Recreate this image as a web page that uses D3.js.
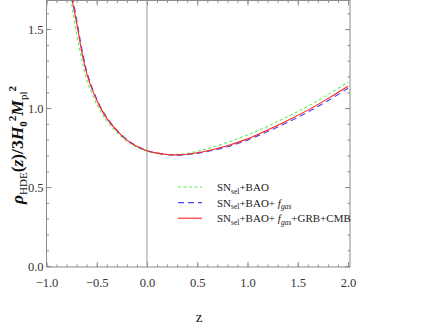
<!DOCTYPE html>
<html>
<head>
<meta charset="utf-8">
<script src="https://cdn.jsdelivr.net/npm/d3@7"></script>
<style>
body { margin: 0; background: #fff; }
svg text { font-family: "Liberation Serif", "DejaVu Serif", serif; }
</style>
</head>
<body>
<div id="chart"></div>
<script>
//redshift grid shared by all three curves
var zGrid = [-0.78, -0.75, -0.7, -0.65, -0.6, -0.55, -0.5, -0.45, -0.4, -0.3, -0.2, -0.1,
    0, 0.1, 0.2, 0.3, 0.4, 0.5, 0.6, 0.8, 1.0, 1.2, 1.4, 1.6, 1.8, 2.0];

//SNsel+BAO (green dotted)
var snBao = [1.76, 1.66, 1.47, 1.31, 1.18, 1.095, 1.025, 0.968, 0.92, 0.847, 0.79, 0.752,
    0.727, 0.713, 0.706, 0.706, 0.713, 0.726, 0.743, 0.783, 0.830, 0.884, 0.946, 1.012, 1.085, 1.163];

//SNsel+BAO+fgas (blue dashed)
var snBaoGas = [1.83, 1.73, 1.56, 1.38, 1.235, 1.135, 1.058, 0.993, 0.94, 0.86, 0.80, 0.759,
    0.731, 0.715, 0.705, 0.702, 0.705, 0.713, 0.725, 0.755, 0.797, 0.852, 0.91, 0.975, 1.047, 1.125];

//SNsel+BAO+fgas+GRB+CMB (red solid)
var snAll = [1.80, 1.70, 1.54, 1.36, 1.22, 1.125, 1.05, 0.987, 0.935, 0.857, 0.797, 0.757,
    0.730, 0.715, 0.706, 0.704, 0.708, 0.717, 0.730, 0.762, 0.805, 0.862, 0.922, 0.987, 1.06, 1.138];

var xTicks = [-1.0, -0.5, 0.0, 0.5, 1.0, 1.5, 2.0];
var yTicks = [0.0, 0.5, 1.0, 1.5];

var svgWidth = 443;
var svgHeight = 332;

var svg = d3.select("#chart").append("svg")
    .attr("width", svgWidth)
    .attr("height", svgHeight);

//scales, frame is 46.5..350 x 0.5..267
var x = d3.scaleLinear().domain([-1, 2.02]).range([46.5, 350]);
var y = d3.scaleLinear().domain([-0.006, 1.681]).range([267, 0.5]);

var frameLeft = x.range()[0], frameRight = x.range()[1];
var frameBottom = y.range()[0], frameTop = y.range()[1];

var frameColor = "#8c8c8c";
var serif = "'Liberation Serif', 'DejaVu Serif', serif";

//minor ticks every 0.1
var xMinor = d3.range(-10, 21).map(d => d / 10);
var yMinor = d3.range(0, 17).map(d => d / 10);

function styleAxis(g) {
    g.attr("font-family", serif).attr("font-size", 12.5);
    g.select(".domain").remove();
    g.selectAll(".tick line").attr("stroke", frameColor);
    g.selectAll(".tick text").attr("fill", "#333");
}

//bottom axis with labels
svg.append("g")
    .attr("transform", `translate(0, ${frameBottom})`)
    .call(d3.axisBottom(x).tickValues(xTicks).tickSizeInner(-5).tickSizeOuter(0).tickPadding(11)
        .tickFormat(d => d3.format(".1f")(d).replace("-", "\u2212")))
    .call(styleAxis);

svg.append("g")
    .attr("transform", `translate(0, ${frameBottom})`)
    .call(d3.axisBottom(x).tickValues(xMinor).tickSizeInner(-2.5).tickSizeOuter(0).tickFormat(""))
    .call(styleAxis);

//top axis, ticks only
svg.append("g")
    .attr("transform", `translate(0, ${frameTop})`)
    .call(d3.axisTop(x).tickValues(xTicks).tickSizeInner(-5).tickSizeOuter(0).tickFormat(""))
    .call(styleAxis);
svg.append("g")
    .attr("transform", `translate(0, ${frameTop})`)
    .call(d3.axisTop(x).tickValues(xMinor).tickSizeInner(-2.5).tickSizeOuter(0).tickFormat(""))
    .call(styleAxis);

//left axis with labels
svg.append("g")
    .attr("transform", `translate(${frameLeft}, 0)`)
    .call(d3.axisLeft(y).tickValues(yTicks).tickSizeInner(-5).tickSizeOuter(0).tickPadding(3)
        .tickFormat(d3.format(".1f")))
    .call(styleAxis);
svg.append("g")
    .attr("transform", `translate(${frameLeft}, 0)`)
    .call(d3.axisLeft(y).tickValues(yMinor).tickSizeInner(-2.5).tickSizeOuter(0).tickFormat(""))
    .call(styleAxis);

//right axis, ticks only
svg.append("g")
    .attr("transform", `translate(${frameRight}, 0)`)
    .call(d3.axisRight(y).tickValues(yTicks).tickSizeInner(-5).tickSizeOuter(0).tickFormat(""))
    .call(styleAxis);
svg.append("g")
    .attr("transform", `translate(${frameRight}, 0)`)
    .call(d3.axisRight(y).tickValues(yMinor).tickSizeInner(-2.5).tickSizeOuter(0).tickFormat(""))
    .call(styleAxis);

//frame
svg.append("rect")
    .attr("x", frameLeft).attr("y", frameTop)
    .attr("width", frameRight - frameLeft).attr("height", frameBottom - frameTop)
    .attr("fill", "none")
    .attr("stroke", frameColor)
    .attr("stroke-width", 1);

//vertical line at z = 0
svg.append("line")
    .attr("x1", x(0)).attr("x2", x(0))
    .attr("y1", frameTop).attr("y2", frameBottom)
    .attr("stroke", "#9a9a9a")
    .attr("stroke-width", 1);

//clip curves to the frame
svg.append("clipPath").attr("id", "plotClip")
    .append("rect")
    .attr("x", frameLeft).attr("y", frameTop)
    .attr("width", frameRight - frameLeft).attr("height", frameBottom - frameTop);

var line = d3.line()
    .x(d => x(d[0]))
    .y(d => y(d[1]))
    .curve(d3.curveCatmullRom);

var series = [
    {values: snBao, color: "#55ee55", dash: "3,2.5"},
    {values: snBaoGas, color: "#4545ee", dash: "6,4"},
    {values: snAll, color: "#ff2222", dash: null}
];

var curves = svg.append("g").attr("clip-path", "url(#plotClip)");
series.forEach(function(s) {
    curves.append("path")
        .datum(zGrid.map((z, i) => [z, s.values[i]]))
        .attr("d", line)
        .attr("fill", "none")
        .attr("stroke", s.color)
        .attr("stroke-width", 1.1)
        .attr("stroke-dasharray", s.dash);
});

//legend
var legendRows = [
    {color: "#55ee55", dash: "3,2.5", gas: false, rest: ""},
    {color: "#4545ee", dash: "6,4", gas: true, rest: ""},
    {color: "#ff2222", dash: null, gas: true, rest: "+GRB+CMB"}
];
var legend = svg.append("g");
legendRows.forEach(function(r, i) {
    var ly = 187 + i * 15.6;
    legend.append("line")
        .attr("x1", 178).attr("x2", 202)
        .attr("y1", ly).attr("y2", ly)
        .attr("stroke", r.color)
        .attr("stroke-width", 1.1)
        .attr("stroke-dasharray", r.dash);
    var t = legend.append("text")
        .attr("x", 217).attr("y", ly + 4)
        .attr("fill", "#222")
        .style("font-size", "11px");
    t.append("tspan").text("SN");
    t.append("tspan").attr("dy", 2.5).style("font-size", "7.5px").text("sel");
    t.append("tspan").attr("dy", -2.5).text("+BAO");
    if (r.gas) {
        t.append("tspan").text("+ ");
        t.append("tspan").style("font-style", "italic").text("f");
        t.append("tspan").attr("dy", 2.5).style("font-size", "7.5px").style("font-style", "italic").text("gas");
        t.append("tspan").attr("dy", -2.5).text(r.rest);
    }
});

//x label
svg.append("text")
    .attr("x", 199).attr("y", 322)
    .attr("text-anchor", "middle")
    .attr("fill", "#222")
    .style("font-size", "15px")
    .text("z");

//y label
var yLabel = svg.append("text")
    .attr("transform", "translate(22.5, 145) rotate(-90)")
    .attr("text-anchor", "middle")
    .attr("fill", "#111")
    .style("font-size", "17.5px")
    .style("font-style", "italic")
    .style("font-weight", "bold");
yLabel.append("tspan").text("\u03c1");
yLabel.append("tspan").attr("dy", 4).style("font-size", "11px").style("font-style", "normal").style("font-weight", "normal").text("HDE");
yLabel.append("tspan").attr("dy", -4).style("font-style", "normal").text("(");
yLabel.append("tspan").text("z");
yLabel.append("tspan").style("font-style", "normal").text(")/3");
yLabel.append("tspan").text("H");
yLabel.append("tspan").attr("dy", 4).style("font-size", "11px").style("font-style", "normal").text("0");
yLabel.append("tspan").attr("dy", -11).style("font-size", "11px").style("font-style", "normal").text("2");
yLabel.append("tspan").attr("dy", 7).text("M");
yLabel.append("tspan").attr("dy", 4).style("font-size", "11px").style("font-style", "normal").style("font-weight", "normal").text("pl");
yLabel.append("tspan").attr("dy", -11).style("font-size", "11px").style("font-style", "normal").text("2");
</script>
</body>
</html>
